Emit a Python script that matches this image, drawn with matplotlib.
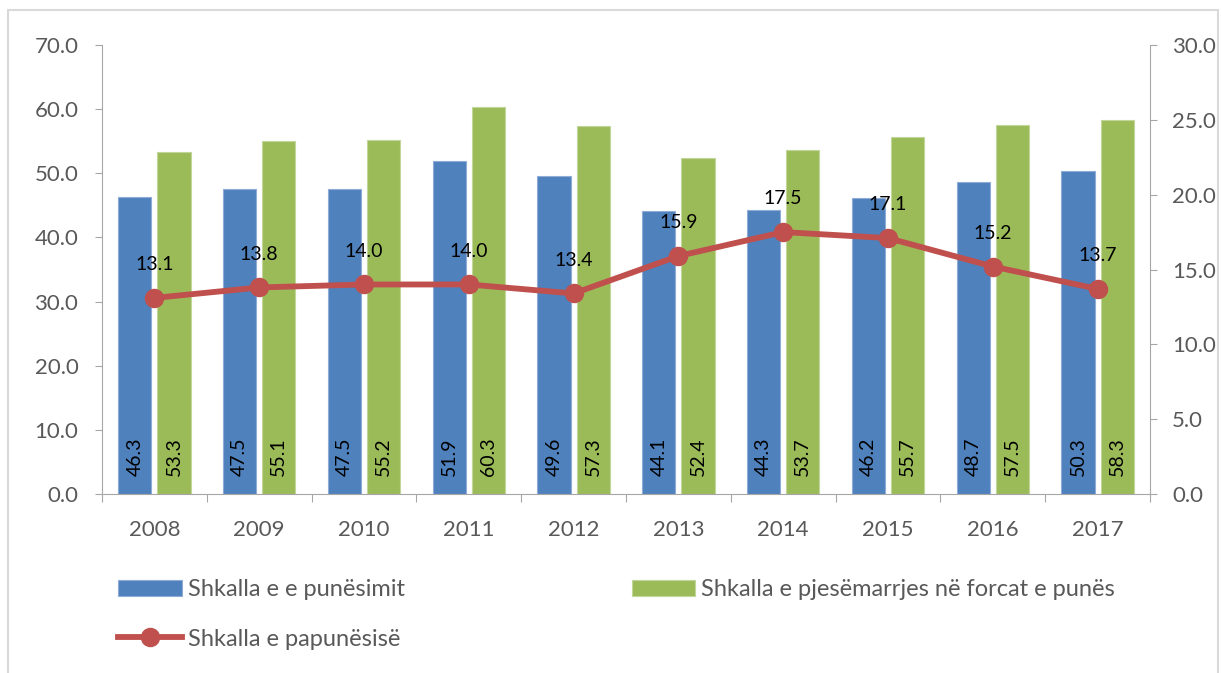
import matplotlib
matplotlib.use("Agg")
import matplotlib.pyplot as plt
from matplotlib.patches import Rectangle
from matplotlib.ticker import FixedLocator, FormatStrFormatter
import numpy as np

years = ["2008", "2009", "2010", "2011", "2012", "2013", "2014", "2015", "2016", "2017"]
employment = [46.3, 47.5, 47.5, 51.9, 49.6, 44.1, 44.3, 46.2, 48.7, 50.3]
participation = [53.3, 55.1, 55.2, 60.3, 57.3, 52.4, 53.7, 55.7, 57.5, 58.3]
unemployment = [13.1, 13.8, 14.0, 14.0, 13.4, 15.9, 17.5, 17.1, 15.2, 13.7]

lbl_emp = "Shkalla e e punësimit"
lbl_part = "Shkalla e pjesëmarrjes në forcat e punës"
lbl_unemp = "Shkalla e papunësisë"

plt.rcParams['font.family'] = ['Lato', 'DejaVu Sans']

BLUE = "#4F81BD"
GREEN = "#9BBB59"
RED = "#C0504D"
GREY = "#595959"
SPINE = "#A6A6A6"

fig = plt.figure(figsize=(12.22, 6.73), dpi=100)
ax = fig.add_axes([102/1222, 1-494/673, (1150-102)/1222, (494-45)/673])

x = np.arange(len(years))
w = 0.315
off = 0.187
b1 = ax.bar(x - off, employment, w, color=BLUE, edgecolor="#8EACD6", linewidth=0.8, label=lbl_emp, zorder=2)
b2 = ax.bar(x + off, participation, w, color=GREEN, edgecolor="#C2D69B", linewidth=0.8, label=lbl_part, zorder=2)

for xi, v in zip(x - off, employment):
    ax.annotate(f"{v:.1f}", (xi, 0), xytext=(0, 13), textcoords="offset points",
                rotation=90, ha="center", va="bottom", fontsize=14, color="black", zorder=5)
for xi, v in zip(x + off, participation):
    ax.annotate(f"{v:.1f}", (xi, 0), xytext=(0, 13), textcoords="offset points",
                rotation=90, ha="center", va="bottom", fontsize=14, color="black", zorder=5)

ax.set_xlim(-0.5, len(years) - 0.5)
ax.set_ylim(0, 70)
ax.yaxis.set_major_locator(FixedLocator(np.arange(0, 71, 10)))
ax.yaxis.set_major_formatter(FormatStrFormatter("%.1f"))
ax.xaxis.set_major_locator(FixedLocator(np.arange(-0.5, len(years), 1.0)))
ax.xaxis.set_major_formatter(plt.NullFormatter())
ax.xaxis.set_minor_locator(FixedLocator(x))
ax.set_xticklabels(years, minor=True)
ax.tick_params(axis="x", which="major", length=6, color=SPINE, direction="out")
ax.tick_params(axis="x", which="minor", length=0, pad=19, labelsize=16, labelcolor=GREY)
ax.tick_params(axis="y", length=5, color=SPINE, pad=12, labelsize=16, labelcolor=GREY)
for s in ["top", "right"]:
    ax.spines[s].set_visible(False)
for s in ["left", "bottom"]:
    ax.spines[s].set_color(SPINE)

ax2 = ax.twinx()
ln, = ax2.plot(x, unemployment, color=RED, linewidth=4.2, marker="o", markersize=13,
               label=lbl_unemp, zorder=3)
for xi, v in zip(x, unemployment):
    ax2.annotate(f"{v:.1f}", (xi, v), xytext=(0, 24), textcoords="offset points",
                 ha="center", va="center", fontsize=14, color="black", zorder=5)
ax2.set_ylim(0, 30)
ax2.yaxis.set_major_locator(FixedLocator(np.arange(0, 31, 5)))
ax2.yaxis.set_major_formatter(FormatStrFormatter("%.1f"))
ax2.tick_params(axis="y", length=5, color=SPINE, pad=11, labelsize=16, labelcolor=GREY)
for s in ["top", "left", "bottom"]:
    ax2.spines[s].set_visible(False)
ax2.spines["right"].set_color(SPINE)

# legend (row-major order)
fig.legend([b1, ln, b2], [lbl_emp, lbl_unemp, lbl_part], ncol=2,
           loc="upper left", bbox_to_anchor=(97/1222, 1-558/673),
           frameon=False, fontsize=17, labelcolor=GREY, handlelength=2.7,
           handleheight=0.7, handletextpad=0.25, columnspacing=9.6, labelspacing=1.2)

# outer frame
fig.patches.append(Rectangle((8/1222, -0.01), (1218-8)/1222, 1 - 10/673 + 0.01,
                             transform=fig.transFigure, fill=False, edgecolor="#D9D9D9",
                             linewidth=1.5, zorder=0))

fig.savefig("out.png", dpi=100)
